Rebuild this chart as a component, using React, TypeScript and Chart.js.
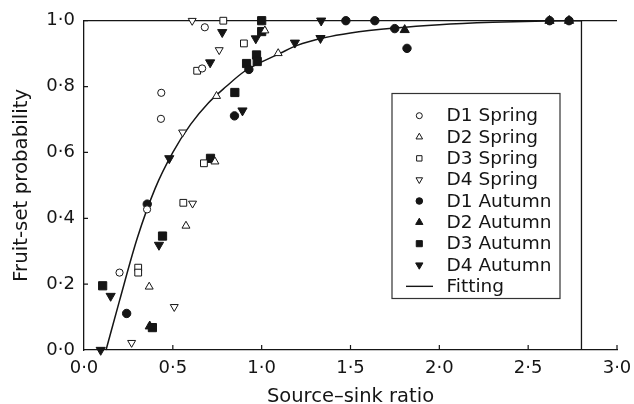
import React, { useEffect, useRef } from "react";
import { Chart, registerables } from "chart.js";

Chart.register(...registerables);

// ---- data ----
const d1Spring: number[][] = [[0.2, 0.235], [0.355, 0.427], [0.435, 0.781], [0.433, 0.702], [0.665, 0.855], [0.68, 0.98]];
const d2Spring: number[][] = [[0.367, 0.192], [0.574, 0.377], [0.737, 0.572], [0.746, 0.771], [1.018, 0.97], [1.093, 0.901]];
const d3Spring: number[][] = [[0.305, 0.25], [0.305, 0.235], [0.559, 0.447], [0.675, 0.567], [0.637, 0.848], [0.784, 1.0], [0.9, 0.931]];
const d4Spring: number[][] = [[0.268, 0.022], [0.508, 0.131], [0.611, 0.445], [0.555, 0.661], [0.761, 0.911], [0.609, 1.0]];
const d1Autumn: number[][] = [[0.24, 0.111], [0.356, 0.443], [0.847, 0.711], [0.928, 0.852], [1.474, 1.0], [1.637, 1.0], [1.749, 0.976], [1.818, 0.916], [2.621, 1.0], [2.73, 1.0]];
const d2Autumn: number[][] = [[0.37, 0.072], [1.805, 0.972], [2.62, 1.0], [2.73, 1.0]];
const d3Autumn: number[][] = [[0.105, 0.195], [0.442, 0.346], [0.385, 0.068], [0.712, 0.582], [0.849, 0.782], [0.915, 0.87], [0.971, 0.896], [0.975, 0.876], [1.0, 1.0], [1.0, 0.967]];
const d4Autumn: number[][] = [[0.094, 0.0], [0.15, 0.164], [0.422, 0.319], [0.48, 0.582], [0.71, 0.873], [0.778, 0.965], [0.892, 0.727], [0.967, 0.946], [1.187, 0.933], [1.335, 1.0], [1.331, 0.947]];
const fitting: number[][] = [[0.124, 0], [0.2, 0.15], [0.3, 0.34], [0.4, 0.49], [0.5, 0.6], [0.6, 0.685], [0.7, 0.75], [0.8, 0.8], [0.9, 0.845], [1.0, 0.875], [1.1, 0.9], [1.2, 0.925], [1.35, 0.948], [1.5, 0.963], [1.75, 0.978], [2.0, 0.988], [2.3, 0.995], [2.6, 0.999], [2.8, 1.0]];
const topLine: number[][] = [[0, 1], [3, 1]];
const cutoffLine: number[][] = [[2.8, 0], [2.8, 1]];

const xTicks = [0, 0.5, 1.0, 1.5, 2.0, 2.5, 3.0];
const yTicks = [0, 0.2, 0.4, 0.6, 0.8, 1.0];
const xTitle = "Source\u2013sink ratio";
const yTitle = "Fruit-set probability";

const INK = "#151515";
const FONT = '"DejaVu Sans", "Liberation Sans", Arial, sans-serif';
const fmt = (v: number) => v.toFixed(1).replace(".", "\u00B7");
const toXY = (a: number[][]) => a.map(([x, y]) => ({ x, y }));

type Marker = { style: string; filled: boolean; rot: number; r: number; lr: number };

function drawMarker(ctx: CanvasRenderingContext2D, m: Marker, x: number, y: number, r: number) {
  ctx.beginPath();
  if (m.style === "circle") {
    ctx.arc(x, y, r, 0, Math.PI * 2);
  } else if (m.style === "rect") {
    const s = Math.SQRT1_2 * r;
    ctx.rect(x - s, y - s, 2 * s, 2 * s);
  } else if (m.style === "triangle") {
    let rad = (m.rot * Math.PI) / 180;
    for (let i = 0; i < 3; i++) {
      const px = x + Math.sin(rad) * r;
      const py = y - Math.cos(rad) * r;
      if (i === 0) ctx.moveTo(px, py);
      else ctx.lineTo(px, py);
      rad += (2 * Math.PI) / 3;
    }
    ctx.closePath();
  }
  ctx.fillStyle = m.filled ? INK : "#fff";
  ctx.fill();
  ctx.lineWidth = 1;
  ctx.strokeStyle = INK;
  ctx.stroke();
}

const tickMarks = {
  id: "tickMarks",
  afterDatasetsDraw(chart: any) {
    const { ctx, scales } = chart;
    const xs = scales.x;
    const ys = scales.y;
    ctx.save();
    ctx.strokeStyle = INK;
    ctx.lineWidth = 1.2;
    ctx.beginPath();
    xTicks.forEach((v) => {
      if (v === 0) return;
      const px = xs.getPixelForValue(v);
      ctx.moveTo(px, ys.bottom);
      ctx.lineTo(px, ys.bottom - 5);
    });
    yTicks.forEach((v) => {
      if (v === 0) return;
      const py = ys.getPixelForValue(v);
      ctx.moveTo(xs.left, py);
      ctx.lineTo(xs.left + 4, py);
    });
    ctx.stroke();
    ctx.restore();
  },
};

const boxLegend = {
  id: "boxLegend",
  afterDraw(chart: any) {
    const ctx: CanvasRenderingContext2D = chart.ctx;
    const items = chart.data.datasets.filter((d: any) => d.legendMarker);
    const left = 392, top = 93.5, w = 168, h = 205;
    const firstRow = 114.7, rowGap = 21.33;
    const markerX = 419.3, textX = 446.5;
    const fontSize = 18.5;
    ctx.save();
    ctx.fillStyle = "#fff";
    ctx.fillRect(left, top, w, h);
    ctx.strokeStyle = "#333";
    ctx.lineWidth = 1.2;
    ctx.strokeRect(left, top, w, h);
    ctx.font = `${fontSize}px ${FONT}`;
    ctx.textBaseline = "alphabetic";
    ctx.textAlign = "left";
    items.forEach((d: any, i: number) => {
      const cy = firstRow + i * rowGap;
      const m: Marker = d.legendMarker;
      if (m.style === "line") {
        ctx.beginPath();
        ctx.strokeStyle = INK;
        ctx.lineWidth = 1.4;
        ctx.moveTo(406, cy + 1);
        ctx.lineTo(433, cy + 1);
        ctx.stroke();
      } else {
        drawMarker(ctx, m, markerX, cy + 1, m.lr);
      }
      ctx.fillStyle = INK;
      ctx.fillText(d.label, textX, cy + 0.365 * fontSize);
    });
    ctx.restore();
  },
};

function pointSet(label: string, data: number[][], m: Marker) {
  return {
    type: "scatter" as const,
    label,
    data: toXY(data),
    showLine: false,
    pointStyle: m.style,
    pointRotation: m.rot,
    pointRadius: m.r,
    pointHoverRadius: m.r,
    pointBackgroundColor: m.filled ? INK : "#fff",
    pointBorderColor: INK,
    pointBorderWidth: 1,
    clip: false,
    order: 1,
    legendMarker: m,
  };
}

export default function App() {
  const ref = useRef<HTMLCanvasElement>(null);
  useEffect(() => {
    if (!ref.current) return;
    const datasets: any[] = [
      pointSet("D1 Spring", d1Spring, { style: "circle", filled: false, rot: 0, r: 3.6, lr: 3 }),
      pointSet("D2 Spring", d2Spring, { style: "triangle", filled: false, rot: 0, r: 4.6, lr: 3.8 }),
      pointSet("D3 Spring", d3Spring, { style: "rect", filled: false, rot: 0, r: 4.8, lr: 3.8 }),
      pointSet("D4 Spring", d4Spring, { style: "triangle", filled: false, rot: 180, r: 4.6, lr: 3.8 }),
      pointSet("D1 Autumn", d1Autumn, { style: "circle", filled: true, rot: 0, r: 4.2, lr: 3.3 }),
      pointSet("D2 Autumn", d2Autumn, { style: "triangle", filled: true, rot: 0, r: 5.3, lr: 4.2 }),
      pointSet("D3 Autumn", d3Autumn, { style: "rect", filled: true, rot: 0, r: 5.8, lr: 4.3 }),
      pointSet("D4 Autumn", d4Autumn, { style: "triangle", filled: true, rot: 180, r: 5.3, lr: 4.2 }),
      {
        type: "line",
        label: "Fitting",
        data: toXY(fitting),
        borderColor: INK,
        borderWidth: 1.5,
        pointRadius: 0,
        cubicInterpolationMode: "monotone",
        fill: false,
        clip: false,
        order: 5,
        legendMarker: { style: "line", filled: false, rot: 0, r: 0, lr: 0 },
      },
      {
        type: "line",
        label: "top",
        data: toXY(topLine),
        borderColor: INK,
        borderWidth: 1.3,
        pointRadius: 0,
        fill: false,
        clip: false,
        order: 6,
      },
      {
        type: "line",
        label: "cutoff",
        data: toXY(cutoffLine),
        borderColor: INK,
        borderWidth: 1.3,
        pointRadius: 0,
        fill: false,
        clip: false,
        order: 6,
      },
    ];
    const chart = new Chart(ref.current, {
      type: "scatter",
      data: { datasets },
      plugins: [tickMarks, boxLegend],
      options: {
        animation: false,
        responsive: false,
        devicePixelRatio: 1,
        layout: { padding: { top: 20.7, right: 17, bottom: 0, left: 0 } },
        plugins: { legend: { display: false }, tooltip: { enabled: false } },
        scales: {
          x: {
            type: "linear",
            min: 0,
            max: 3,
            afterFit: (s: any) => { s.height = 54; s.paddingRight = 0; s.paddingLeft = 0; },
            afterBuildTicks: (s: any) => { s.ticks = xTicks.map((v) => ({ value: v })); },
            ticks: { callback: (v: any) => fmt(Number(v)), color: INK, font: { family: FONT, size: 18 }, padding: 8, maxRotation: 0, autoSkip: false },
            grid: { display: false, drawTicks: false },
            border: { display: true, color: INK, width: 1.3 },
            title: { display: true, text: xTitle, color: INK, font: { family: FONT, size: 19.5, lineHeight: 1 }, padding: { top: 0, bottom: -3 } },
          },
          y: {
            type: "linear",
            min: 0,
            max: 1,
            afterFit: (s: any) => { s.width = 84; s.paddingTop = 0; s.paddingBottom = 0; },
            afterBuildTicks: (s: any) => { s.ticks = yTicks.map((v) => ({ value: v })); },
            ticks: { callback: (v: any) => fmt(Number(v)), color: INK, font: { family: FONT, size: 18 }, padding: 9, autoSkip: false },
            grid: { display: false, drawTicks: false },
            border: { display: true, color: INK, width: 1.3 },
            title: { display: true, text: yTitle, color: INK, font: { family: FONT, size: 19.8, lineHeight: 1 }, padding: { top: 11.6, bottom: 0 } },
          },
        },
      } as any,
    });
    return () => chart.destroy();
  }, []);
  return (
    <div style={{ position: "fixed", left: 0, top: 0, width: 634, height: 404, background: "#fff" }}>
      <canvas ref={ref} width={634} height={404} style={{ display: "block" }} />
    </div>
  );
}
